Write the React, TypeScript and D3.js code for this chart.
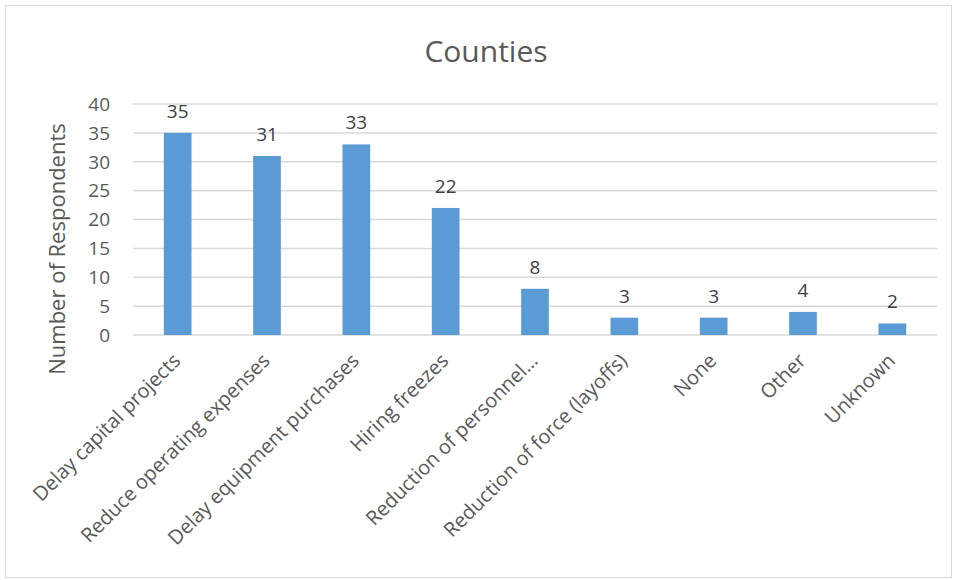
import React from "react";
import * as d3 from "d3";

const categories = [
  "Delay capital projects",
  "Reduce operating expenses",
  "Delay equipment purchases",
  "Hiring freezes",
  "Reduction of personnel…",
  "Reduction of force (layoffs)",
  "None",
  "Other",
  "Unknown",
];
const values = [35, 31, 33, 22, 8, 3, 3, 4, 2];
const yTicks = [0, 5, 10, 15, 20, 25, 30, 35, 40];
const title = "Counties";
const yTitle = "Number of Respondents";

const W = 954;
const H = 580;
const FONT = "'Open Sans', 'Noto Sans', sans-serif";

export default function App() {
  const x = d3.scaleBand<string>().domain(categories).range([133, 937]).paddingInner(0.69).paddingOuter(0.345);
  const y = d3.scaleLinear().domain([0, 40]).range([335, 104]);
  return (
    <svg width={W} height={H} style={{ position: "absolute", left: 0, top: 0 }}>
      <rect x={0} y={0} width={W} height={H} fill="#fff" />
      <rect x={5.5} y={5.5} width={946} height={572} fill="#fff" stroke="#d9d9d9" strokeWidth={1} />
      <text x={486} y={62} textAnchor="middle" fontFamily={FONT} fontSize={30} fill="#595959">{title}</text>
      {yTicks.map((t) => (
        <g key={t}>
          <line x1={133} x2={937} y1={y(t)} y2={y(t)} stroke="#d9d9d9" strokeWidth={1.5} />
          <text x={110} y={y(t)} dy="0.36em" textAnchor="end" fontFamily={FONT} fontSize={19} fill="#595959">{t}</text>
        </g>
      ))}
      <text transform={`translate(65,249) rotate(-90)`} textAnchor="middle" fontFamily={FONT} fontSize={22} fill="#595959">{yTitle}</text>
      {categories.map((c, i) => {
        const bx = x(c)!;
        const bw = x.bandwidth();
        const cx = bx + bw / 2;
        return (
          <g key={c}>
            <rect x={bx} y={y(values[i])} width={bw} height={y(0) - y(values[i])} fill="#5B9BD5" />
            <text x={cx} y={y(values[i]) - 15} textAnchor="middle" fontFamily={FONT} fontSize={19} fill="#404040">{values[i]}</text>
            <text transform={`translate(${cx + 4},${362}) rotate(-45)`} textAnchor="end" fontFamily={FONT} fontSize={20} fill="#595959">{c}</text>
          </g>
        );
      })}
    </svg>
  );
}
